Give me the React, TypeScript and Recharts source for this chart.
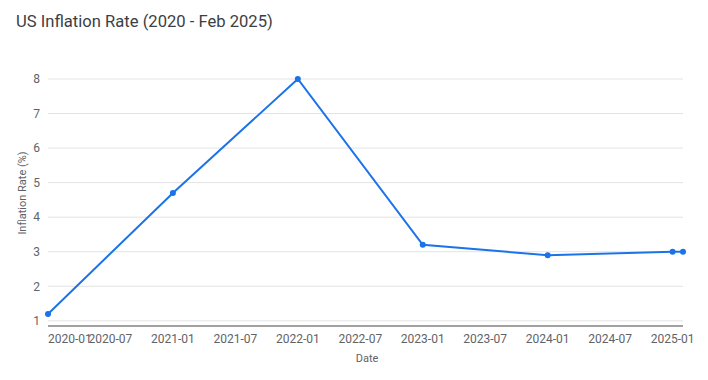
import React from 'react';
import { LineChart, Line, XAxis, YAxis, CartesianGrid } from 'recharts';

const dateLabels = ['2020-01', '2021-01', '2022-01', '2023-01', '2024-01', '2025-01', '2025-02'];
const monthIndex = [0, 12, 24, 36, 48, 60, 61];
const inflationRate = [1.2, 4.7, 8.0, 3.2, 2.9, 3.0, 3.0];
const xTicks = [0, 6, 12, 18, 24, 30, 36, 42, 48, 54, 60];
const xTickLabels = ['2020-01', '2020-07', '2021-01', '2021-07', '2022-01', '2022-07', '2023-01', '2023-07', '2024-01', '2024-07', '2025-01'];
const yTicks = [1, 2, 3, 4, 5, 6, 7, 8];

const data = dateLabels.map((d, i) => ({ date: d, m: monthIndex[i], rate: inflationRate[i] }));

const XTick = (props: any) => {
  const { x, y, payload, index } = props;
  const i = xTicks.indexOf(payload.value);
  return (
    <text x={x} y={y} dy={9} textAnchor={index === 0 ? 'start' : 'middle'} fill="#5f6368" fontSize={12} fontFamily="Roboto">
      {xTickLabels[i]}
    </text>
  );
};

export default function App() {
  return (
    <div style={{ position: 'absolute', left: 0, top: 0, width: 708, height: 380, background: '#fff', fontFamily: 'Roboto' }}>
      <div style={{ position: 'absolute', left: 16, top: 12, fontSize: 16.6, color: '#3c4043', whiteSpace: 'nowrap' }}>
        US Inflation Rate (2020 - Feb 2025)
      </div>
      <div
        style={{
          position: 'absolute',
          left: 22,
          top: 193,
          transform: 'translate(-50%, -50%) rotate(-90deg)',
          fontSize: 11,
          color: '#5f6368',
          whiteSpace: 'nowrap',
        }}
      >
        Inflation Rate (%)
      </div>
      <div style={{ position: 'absolute', left: 367, top: 358, transform: 'translate(-50%, -50%)', fontSize: 11, color: '#5f6368' }}>
        Date
      </div>
      <LineChart width={708} height={380} data={data} margin={{ top: 79, right: 25, bottom: 24, left: 0 }} style={{ position: 'absolute', left: 0, top: 0 }}>
        <CartesianGrid vertical={false} stroke="#e3e3e3" horizontalValues={yTicks} />
        <XAxis
          dataKey="m"
          type="number"
          domain={[0, 61]}
          ticks={xTicks}
          interval={0}
          height={30}
          tickLine={false}
          axisLine={{ stroke: '#444', strokeWidth: 1 }}
          tick={<XTick />}
        />
        <YAxis
          type="number"
          domain={[0.85, 8]}
          ticks={yTicks}
          width={48}
          tickLine={false}
          axisLine={false}
          tick={{ fill: '#5f6368', fontSize: 12, fontFamily: 'Roboto' }}
        />
        <Line
          type="linear"
          dataKey="rate"
          stroke="#1a73e8"
          strokeWidth={2}
          dot={{ r: 3, fill: '#1a73e8', stroke: '#1a73e8', strokeWidth: 0 }}
          isAnimationActive={false}
        />
      </LineChart>
    </div>
  );
}
